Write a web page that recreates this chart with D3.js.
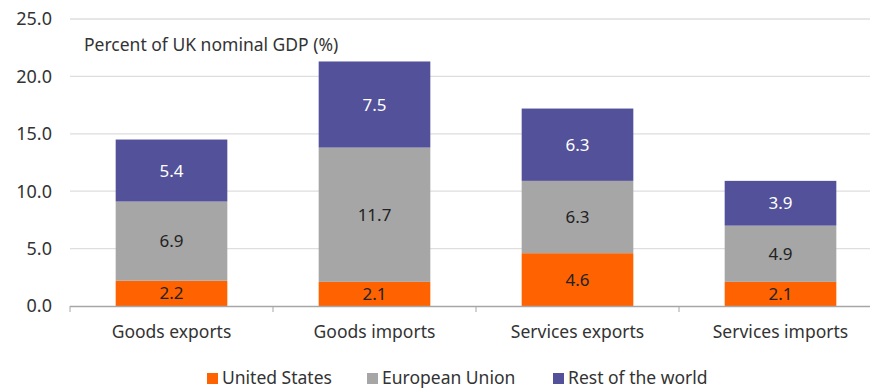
<!DOCTYPE html>
<html>
<head>
<meta charset="utf-8">
<script src="https://cdn.jsdelivr.net/npm/d3@7"></script>
<style>
  body { margin: 0; background: #fff; }
  svg { display: block; font-family: "Noto Sans", "DejaVu Sans", sans-serif; }
</style>
</head>
<body>
<svg id="chart" width="870" height="390"></svg>
<script>
// UK trade by partner, share of nominal GDP
const categories = ["Goods exports", "Goods imports", "Services exports", "Services imports"];
const unitedStates = [2.2, 2.1, 4.6, 2.1];
const europeanUnion = [6.9, 11.7, 6.3, 4.9];
const restOfWorld = [5.4, 7.5, 6.3, 3.9];
const seriesNames = ["United States", "European Union", "Rest of the world"];
const yTicks = [0, 5, 10, 15, 20, 25];

const colors = ["#FF6200", "#A6A6A6", "#525199"];
const labelColors = ["#222", "#222", "#fff"];

const svg = d3.select("#chart");
const plotLeft = 70, plotRight = 882, plotTop = 19, plotBottom = 306;

const x = d3.scaleBand().domain(categories).range([plotLeft, plotRight])
  .paddingInner(0.45).paddingOuter(0.225);
const y = d3.scaleLinear().domain([0, 25]).range([plotBottom, plotTop]);

// gridlines
svg.append("g").selectAll("line").data(yTicks.filter(d => d > 0)).join("line")
  .attr("x1", plotLeft).attr("x2", 870)
  .attr("y1", d => y(d)).attr("y2", d => y(d))
  .attr("stroke", "#dedede").attr("stroke-width", 1.3);

// y tick labels
svg.append("g").selectAll("text").data(yTicks).join("text")
  .attr("x", 52).attr("y", d => y(d)).attr("dy", "0.35em")
  .attr("text-anchor", "end").attr("font-size", 18).attr("fill", "#333")
  .text(d => d.toFixed(1));

// stacked bars
const rows = categories.map((c, i) => ({
  category: c, us: unitedStates[i], eu: europeanUnion[i], row: restOfWorld[i]
}));
const stack = d3.stack().keys(["us", "eu", "row"]);
const layers = stack(rows);

layers.forEach((layer, li) => {
  const g = svg.append("g");
  g.selectAll("rect").data(layer).join("rect")
    .attr("x", d => x(d.data.category))
    .attr("width", x.bandwidth())
    .attr("y", d => y(d[1]))
    .attr("height", d => y(d[0]) - y(d[1]))
    .attr("fill", colors[li]);
  g.selectAll("text").data(layer).join("text")
    .attr("x", d => x(d.data.category) + x.bandwidth() / 2)
    .attr("y", d => (y(d[0]) + y(d[1])) / 2)
    .attr("dy", "0.36em")
    .attr("text-anchor", "middle").attr("font-size", 17)
    .attr("fill", labelColors[li])
    .text(d => (d[1] - d[0]).toFixed(1));
});

// x axis baseline with category separators
svg.append("line").attr("x1", plotLeft).attr("x2", plotRight)
  .attr("y1", plotBottom + 0.5).attr("y2", plotBottom + 0.5)
  .attr("stroke", "#a6a6a6").attr("stroke-width", 1.5);
const bounds = categories.map(c => x(c) - x.step() * x.paddingInner() / 2);
bounds[0] = plotLeft;
bounds.push(plotRight);
svg.append("g").selectAll("line").data(bounds).join("line")
  .attr("x1", d => d).attr("x2", d => d)
  .attr("y1", plotBottom).attr("y2", plotBottom + 6)
  .attr("stroke", "#a6a6a6").attr("stroke-width", 1);

svg.append("g").selectAll("text").data(categories).join("text")
  .attr("x", d => x(d) + x.bandwidth() / 2).attr("y", 338)
  .attr("text-anchor", "middle").attr("font-size", 17.5).attr("fill", "#333")
  .text(d => d);

// axis title
svg.append("text").attr("x", 84).attr("y", 51)
  .attr("font-size", 17.5).attr("fill", "#333")
  .text("Percent of UK nominal GDP (%)");

// legend
const legendX = [207, 367, 553];
const lg = svg.append("g").selectAll("g").data(seriesNames).join("g")
  .attr("transform", (d, i) => `translate(${legendX[i]},378)`);
lg.append("rect").attr("x", 0).attr("y", -5).attr("width", 11).attr("height", 11)
  .attr("fill", (d, i) => colors[i]);
lg.append("text").attr("x", 15).attr("y", 0).attr("dy", "0.36em")
  .attr("font-size", 17.5).attr("fill", "#333").text(d => d);
</script>
</body>
</html>
